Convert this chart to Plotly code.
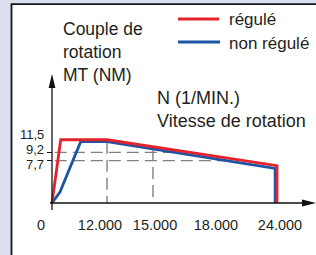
import numpy as np
import plotly.graph_objects as go

W, H = 316, 255

# ---------------- data (schematic drawing, x in drawing units) ----------------
regule_x = [0, 0.93, 5.87, 24.0, 24.0]
regule_y = [0, 11.5, 11.5, 6.8, 0]
non_regule_x = [0, 0.85, 3.06, 5.87, 23.8, 23.8]
non_regule_y = [0, 2.0, 11.15, 11.15, 6.3, 0]

y_tick_vals = [11.5, 9.2, 7.7]
y_tick_text = ["11,5", "9,2", "7,7"]
x_tick_pos = [-1.17, 5.12, 10.99, 17.49, 24.32]
x_tick_text = ["0", "12.000", "15.000", "18.000", "24.000"]

guide_h_levels = [9.2, 7.7]
guide_v_pos = [5.87, 10.77]

# ---------------- styling ----------------
RED = "#e3232c"
BLUE = "#1d55a6"
GREY = "#808080"
INK = "#231f20"
BG = "#dadff0"
FONT = "Liberation Sans"

# pixel calibration of the drawing
X0PX, SX = 52.0, 9.375   # origin px, px per x unit
Y0PX, SY = 203.0, 5.5    # origin px (from top), px per Nm
xr = [-X0PX / SX, (W - X0PX) / SX]
yr = [-(H - Y0PX) / SY, Y0PX / SY]


def px(xp):
    return xp / W


def py(yp):
    return 1 - yp / H


fig = go.Figure()

# guide lines (end where they meet the non-regulated curve)
seg_x = non_regule_x[3:5]
seg_y = non_regule_y[3:5]
for lvl in guide_h_levels:
    xend = float(np.interp(lvl, seg_y[::-1], seg_x[::-1]))
    fig.add_trace(go.Scatter(x=[0.3, xend], y=[lvl, lvl], mode="lines",
                             line=dict(color=GREY, width=1.4, dash="12px,6px"),
                             hoverinfo="skip"))
for xv in guide_v_pos:
    ytop = float(np.interp(xv, seg_x, seg_y))
    fig.add_trace(go.Scatter(x=[xv, xv], y=[ytop, 0], mode="lines",
                             line=dict(color=GREY, width=1.4, dash="12px,6px"),
                             hoverinfo="skip"))

fig.add_trace(go.Scatter(x=non_regule_x, y=non_regule_y, mode="lines",
                         line=dict(color=BLUE, width=2.8), name="non régulé"))
fig.add_trace(go.Scatter(x=regule_x, y=regule_y, mode="lines",
                         line=dict(color=RED, width=2.8), name="régulé"))

shapes = [
    # white panel with dark border (left & top visible)
    dict(type="rect", xref="paper", yref="paper", x0=px(11.5), x1=px(W + 10),
         y0=py(H + 10), y1=py(4.2), fillcolor="white",
         line=dict(color="#161616", width=1.8), layer="below"),
    # y axis
    dict(type="line", xref="paper", yref="paper", x0=px(52), x1=px(52),
         y0=py(210), y1=py(86), line=dict(color="#111", width=1.3)),
    dict(type="path", xref="paper", yref="paper",
         path=f"M {px(52)} {py(74)} L {px(48.6)} {py(88)} L {px(55.4)} {py(88)} Z",
         fillcolor="#111", line=dict(width=0)),
    # x axis
    dict(type="line", xref="paper", yref="paper", x0=px(50), x1=px(304),
         y0=py(203), y1=py(203), line=dict(color="#111", width=1.3)),
    dict(type="path", xref="paper", yref="paper",
         path=f"M {px(316)} {py(203)} L {px(302)} {py(199.6)} L {px(302)} {py(206.4)} Z",
         fillcolor="#111", line=dict(width=0)),
    # legend lines
    dict(type="line", xref="paper", yref="paper", x0=px(178), x1=px(219),
         y0=py(19), y1=py(19), line=dict(color=RED, width=2.8)),
    dict(type="line", xref="paper", yref="paper", x0=px(178), x1=px(220),
         y0=py(42), y1=py(42), line=dict(color=BLUE, width=2.8)),
]


def txt(s, x, y, size, anchor="left"):
    return dict(text=s, x=px(x), y=py(y), xref="paper", yref="paper",
                xanchor=anchor, yanchor="middle", showarrow=False,
                align="left", font=dict(family=FONT, size=size, color=INK))


annotations = [
    txt("Couple de<br>rotation<br>MT (NM)", 61, 52, 17.5),
    txt("N (1/MIN.)<br>Vitesse de rotation", 155, 109, 18),
    txt("régulé", 227, 20, 17),
    txt("non régulé", 227, 43, 17),
]

# y tick labels, nudged apart as in the drawing
label_shift = [5, 2.5, -4]
for v, t, s in zip(y_tick_vals, y_tick_text, label_shift):
    annotations.append(dict(text=t, x=px(46), y=v, xref="paper", yref="y",
                            xanchor="right", yanchor="middle", yshift=s,
                            showarrow=False,
                            font=dict(family=FONT, size=13, color=INK)))

fig.update_layout(
    width=W, height=H, margin=dict(l=0, r=0, t=0, b=0),
    paper_bgcolor=BG, plot_bgcolor="rgba(0,0,0,0)", showlegend=False,
    shapes=shapes, annotations=annotations,
    xaxis=dict(range=xr, domain=[0, 1], anchor="free", position=py(203),
               showgrid=False, zeroline=False, showline=False,
               tickmode="array", tickvals=x_tick_pos, ticktext=x_tick_text,
               ticks="outside", ticklen=9, tickcolor="rgba(0,0,0,0)",
               tickfont=dict(family=FONT, size=14.5, color=INK)),
    yaxis=dict(range=yr, domain=[0, 1], anchor="free", position=px(52),
               showgrid=False, zeroline=False, showline=False,
               tickmode="array", tickvals=guide_h_levels,
               ticktext=["", ""], ticks="outside", ticklen=5,
               tickcolor="#111", tickwidth=1.2),
)

fig.write_html(
    "out.html",
    config={"displayModeBar": False, "staticPlot": True},
    post_script="document.body.style.margin='0';"
                "document.documentElement.style.overflow='hidden';"
                f"document.body.style.background='{BG}';",
)
